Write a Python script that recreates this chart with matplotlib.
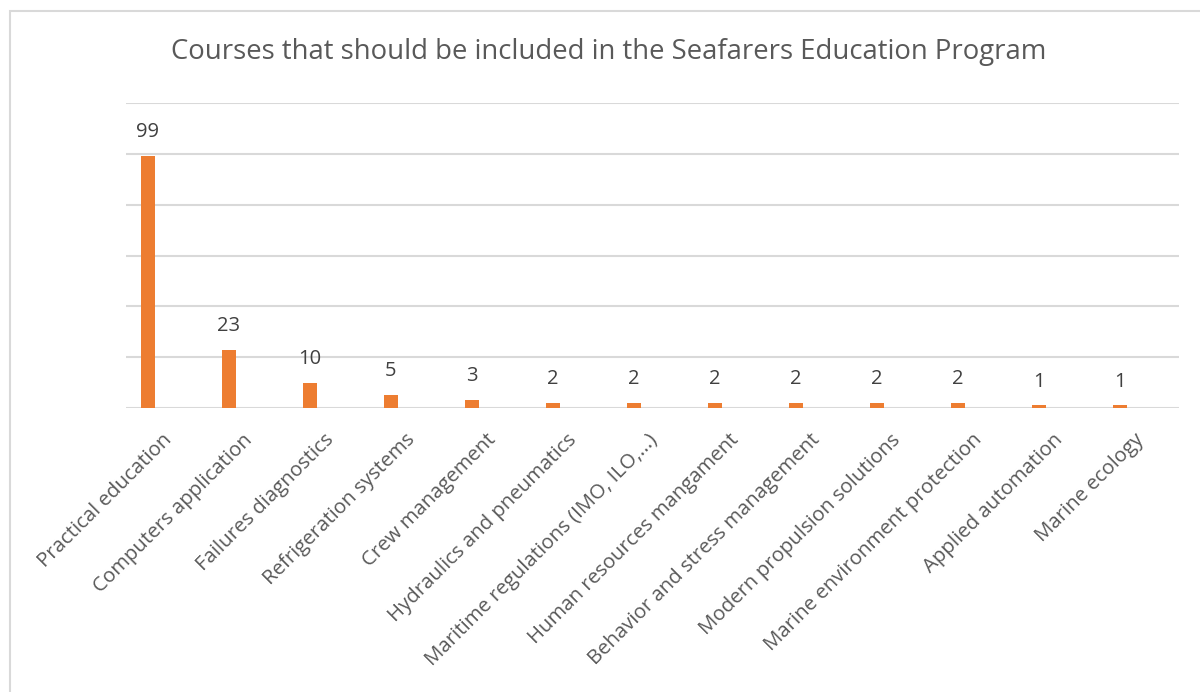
import matplotlib.pyplot as plt
import matplotlib.transforms as mtransforms
from matplotlib.patches import Rectangle

# data
courses = ['Practical education', 'Computers application', 'Failures diagnostics',
           'Refrigeration systems', 'Crew management', 'Hydraulics and pneumatics',
           'Maritime regulations (IMO, ILO,...)', 'Human resources mangament',
           'Behavior and stress management', 'Modern propulsion solutions',
           'Marine environment protection', 'Applied automation', 'Marine ecology']
counts = [99, 23, 10, 5, 3, 2, 2, 2, 2, 2, 2, 1, 1]
grid_ticks = [0, 20, 40, 60, 80, 100, 120]

plt.rcParams['font.family'] = ['Open Sans', 'DejaVu Sans']
text_col = '#595959'
bar_col = '#ED7D31'
grid_col = '#d9d9d9'

fig = plt.figure(figsize=(12, 6.92), dpi=100)
ax = fig.add_axes([126 / 1200, 1 - 408 / 692, (1179 - 126) / 1200, (408 - 103) / 692])

x = range(len(courses))
bars = ax.bar(x, counts, width=0.173, color=bar_col, zorder=3)
ax.set_xlim(-0.27, len(courses) - 0.27)
ax.set_ylim(0, 120)
ax.set_yticks(grid_ticks)
ax.set_yticklabels([])
ax.tick_params(axis='y', length=0)
ax.tick_params(axis='x', length=0, pad=0)
ax.grid(axis='y', color=grid_col, linewidth=1.5, zorder=0)
for s in ax.spines.values():
    s.set_visible(False)

for b, v in zip(bars, counts):
    ax.annotate(str(v), (b.get_x() + b.get_width() / 2, v), xytext=(0, 10),
                textcoords='offset points', ha='center', va='bottom',
                fontsize=14.5, color='#404040')

ax.set_xticks(list(x))
ax.set_xticklabels(courses, rotation=45, ha='right', va='top',
                   rotation_mode='anchor', fontsize=14.7, color=text_col)
# move labels so their ends sit just right of / below each bar
shift = mtransforms.ScaledTranslation(14 / 100, -22 / 100, fig.dpi_scale_trans)
for lbl in ax.get_xticklabels():
    lbl.set_transform(lbl.get_transform() + shift)

fig.text(609 / 1200, 1 - 52 / 692, 'Courses that should be included in the Seafarers Education Program',
         ha='center', va='center', fontsize=19.8, color=text_col)

fig.patches.append(Rectangle((10 / 1200, -0.05), 1.1, 1 - 11 / 692 + 0.05,
                             transform=fig.transFigure, fill=False,
                             edgecolor=grid_col, linewidth=1.5))

fig.savefig('out.png', dpi=100, facecolor='white')
